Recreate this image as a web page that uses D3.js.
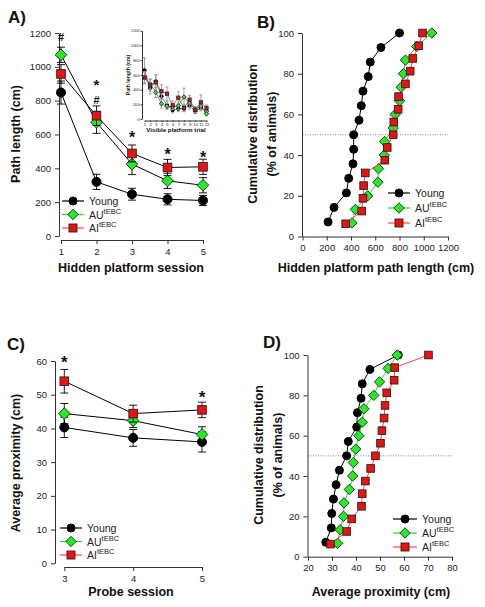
<!DOCTYPE html>
<html><head><meta charset="utf-8">
<script src="https://cdn.jsdelivr.net/npm/d3@7"></script>
<style>body{margin:0;background:#fff}svg{display:block}text{font-family:"Liberation Sans",Arial,sans-serif}</style>
</head><body>
<script>
// ---------- DATA ----------
const sessionsA = [1,2,3,4,5];
const youngA = [848,320,247,217,210];
const youngAErr = [68,45,35,33,30];
const auA = [1071,672,425,326,300];
const auAErr = [45,65,62,45,45];
const aiA = [958,711,488,405,409];
const aiAErr = [55,58,50,48,45];
const yTicksA = [0,200,400,600,800,1000,1200];

const trialsI = [1,2,3,4,5,6,7,8,9,10,11,12];
const youngI = [661,420,512,308,186,122,140,140,186,104,150,104];
const youngIErr = [170,80,90,90,50,40,40,40,50,30,40,30];
const auI = [557,476,362,208,172,168,181,299,217,127,177,72];
const auIErr = [80,70,70,60,40,40,50,120,60,40,50,30];
const aiI = [566,457,498,376,344,186,290,150,263,127,227,150];
const aiIErr = [80,80,100,90,90,60,80,50,60,40,100,40];
const yTicksI = [0,200,400,600,800,1000,1200];

const youngB = [211,260,362,381,416,422,422,466,485,499,542,559,647,800];
const auB = [408,436,537,622,627,674,677,748,764,800,814,833,849,942,1066];
const aiB = [356,488,499,504,518,679,699,748,753,789,792,849,888,910,959,990];
const xTicksB = [0,200,400,600,800,1000,1200];
const pctTicks = [0,20,40,60,80,100];

const sessionsC = [3,4,5];
const youngC = [40.3,37.2,36.0];
const youngCErr = [3.0,2.5,3.0];
const auC = [44.4,42.3,38.2];
const auCErr = [3.0,2.0,2.3];
const aiC = [54.0,44.4,45.5];
const aiCErr = [3.5,2.5,2.3];
const yTicksC = [0,10,20,30,40,50,60];

const youngD = [27.4,29.7,29.9,30.6,31.7,33.1,36.1,36.8,40.3,40.6,42.1,42.6,45.8,57.6];
const auD = [32.3,33.4,34.8,35.0,37.2,38.6,38.9,39.9,41.2,42.6,43.3,47.4,49.8,53.4,57.2];
const aiD = [29.4,36.1,38.2,42.3,42.6,43.9,46.1,48.1,50.2,50.8,51.7,52.1,52.8,55.9,56.1,70.2];
const xTicksD = [20,30,40,50,60,70,80];

// ---------- STYLE ----------
const GREEN="#22ee22", RED="#ee1111", GLINE="#22dd22", RLINE="#ff4444";
const W=485,H=607;
const fmt=d3.format("d");
const svg=d3.select("body").append("svg").attr("width",W).attr("height",H);

function marker(g,type,x,y,s,fill){
  if(type==="circle") g.append("circle").attr("cx",x).attr("cy",y).attr("r",s).attr("fill","#000").attr("stroke","#000");
  else if(type==="square") g.append("rect").attr("x",x-s).attr("y",y-s).attr("width",2*s).attr("height",2*s).attr("fill",fill).attr("stroke","#222").attr("stroke-width",0.9);
  else { const d=s*1.3; g.append("path").attr("d",`M${x},${y-d}L${x+d},${y}L${x},${y+d}L${x-d},${y}Z`).attr("fill",fill).attr("stroke","#222").attr("stroke-width",0.9); }
}
function series(g,xs,ys,errs,x,y,type,fill,lineColor,s,errColor,cap,lw){
  const line=d3.line().x((d,i)=>x(xs[i])).y(d=>y(d));
  g.append("path").datum(ys).attr("d",line).attr("fill","none").attr("stroke",lineColor).attr("stroke-width",lw||1);
  if(errs){ ys.forEach((v,i)=>{
    const cx=x(xs[i]);
    g.append("line").attr("x1",cx).attr("x2",cx).attr("y1",y(v+errs[i])).attr("y2",y(v-errs[i])).attr("stroke",errColor).attr("stroke-width",0.9);
    [v+errs[i],v-errs[i]].forEach(e=>g.append("line").attr("x1",cx-cap).attr("x2",cx+cap).attr("y1",y(e)).attr("y2",y(e)).attr("stroke",errColor).attr("stroke-width",0.9));
  });}
  ys.forEach((v,i)=>marker(g,type,x(xs[i]),y(v),s,fill));
}
function cumSeries(g,xs,x,y,type,fill,lineColor,s){
  const n=xs.length; const ps=xs.map((d,i)=>(i+1)*100/n);
  series(g,xs,ps,null,x,y,type,fill,lineColor,s,null,0,1);
}
function styleAxis(a,fs){
  a.selectAll("text").attr("font-size",fs).attr("fill","#222");
  a.selectAll("line").attr("stroke","#333");
  a.select(".domain").attr("stroke","#333");
}
function legend(g,x0,y0,dy,lineLen,s,fs){
  const items=[["circle","#000","#000","Young",null],["diamond",GREEN,GLINE,"AU","tEBC"],["square",RED,RLINE,"AI","tEBC"]];
  items.forEach((it,i)=>{
    const y=y0+i*dy;
    g.append("line").attr("x1",x0).attr("x2",x0+lineLen).attr("y1",y).attr("y2",y).attr("stroke",it[2]).attr("stroke-width",1.2);
    marker(g,it[0],x0+lineLen/2,y,s,it[1]);
    const t=g.append("text").attr("x",x0+lineLen+5).attr("y",y+4).attr("font-size",fs).attr("fill","#222").text(it[3]);
    if(it[4]) t.append("tspan").attr("dy",-5).attr("font-size",fs*0.72).text(it[4]);
  });
}
function txt(x,y,s,fs,opts={}){
  const t=svg.append("text").attr("x",x).attr("y",y).attr("font-size",fs).attr("font-weight",opts.bold===false?"normal":"bold").attr("text-anchor",opts.anchor||"middle").attr("fill","#111").text(s);
  if(opts.rot) t.attr("transform",`rotate(-90,${x},${y})`);
  return t;
}

// ---------- PANEL A ----------
{
  const g=svg.append("g");
  const x=d3.scaleLinear().domain([1,5]).range([61,203]);
  const y=d3.scaleLinear().domain([0,1200]).range([236,33]);
  styleAxis(g.append("g").attr("transform","translate(59,0)").call(d3.axisLeft(y).tickValues(yTicksA).tickFormat(fmt).tickSize(4).tickSizeOuter(0).tickPadding(4)),9.5);
  styleAxis(g.append("g").attr("transform","translate(0,240)").call(d3.axisBottom(x).tickValues(sessionsA).tickFormat(fmt).tickSize(4).tickSizeOuter(0).tickPadding(4)),9.5);
  series(g,sessionsA,youngA,youngAErr,x,y,"circle","#000","#000",4.5,"#000",4);
  series(g,sessionsA,auA,auAErr,x,y,"diamond",GREEN,"#000",4.5,"#000",4);
  series(g,sessionsA,aiA,aiAErr,x,y,"square",RED,"#000",4.3,"#000",4);
  legend(g,62,201,13.5,22,4,10.5);
  // annotations
  [[1,"#",41,11],[2,"*",90,15],[2,"#",104,11],[3,"*",143,16],[4,"*",160,16],[5,"*",163,16]].forEach(a=>txt(x(a[0]),a[2],a[1],a[3]));
  // inset
  const xi=d3.scaleLinear().domain([1,12]).range([144.5,206.5]);
  const yi=d3.scaleLinear().domain([0,1200]).range([119,30.7]);
  styleAxis(g.append("g").attr("transform","translate(142,0)").call(d3.axisLeft(yi).tickValues(yTicksI).tickFormat(fmt).tickSize(1.5).tickSizeOuter(0).tickPadding(1)),3.8);
  styleAxis(g.append("g").attr("transform","translate(0,120.5)").call(d3.axisBottom(xi).tickValues(trialsI).tickFormat(fmt).tickSize(1.5).tickSizeOuter(0).tickPadding(1)),4.2);
  series(g,trialsI,youngI,youngIErr,xi,yi,"circle","#000","#333",1.7,"#999",1.5,0.6);
  series(g,trialsI,auI,auIErr,xi,yi,"diamond",GREEN,"#333",1.7,"#999",1.5,0.6);
  series(g,trialsI,aiI,aiIErr,xi,yi,"square",RED,"#333",1.6,"#999",1.5,0.6);
  txt(129.5,75,"Path length (cm)",5.2,{rot:true});
  txt(176,132,"Visible platform trial",6.2);
}
// ---------- PANEL B ----------
{
  const g=svg.append("g");
  const x=d3.scaleLinear().domain([0,1200]).range([302.5,448]);
  const y=d3.scaleLinear().domain([0,100]).range([236.5,33]);
  styleAxis(g.append("g").attr("transform","translate(302,0)").call(d3.axisLeft(y).tickValues(pctTicks).tickFormat(fmt).tickSize(4).tickSizeOuter(0).tickPadding(4)),9.5);
  styleAxis(g.append("g").attr("transform","translate(0,236.5)").call(d3.axisBottom(x).tickValues(xTicksB).tickFormat(fmt).tickSize(4).tickSizeOuter(0).tickPadding(4)),9.5);
  g.append("line").attr("x1",x(0)).attr("x2",x(1200)).attr("y1",y(50)).attr("y2",y(50)).attr("stroke","#666").attr("stroke-width",0.8).attr("stroke-dasharray","1,1.5");
  cumSeries(g,youngB,x,y,"circle","#000","#000",4);
  cumSeries(g,auB,x,y,"diamond",GREEN,GLINE,4);
  cumSeries(g,aiB,x,y,"square",RED,RLINE,3.8);
  legend(g,388,193,15,22,4,10.5);
}
// ---------- PANEL C ----------
{
  const g=svg.append("g");
  const x=d3.scaleLinear().domain([3,5]).range([64.3,202]);
  const y=d3.scaleLinear().domain([0,60]).range([563.3,361]);
  styleAxis(g.append("g").attr("transform","translate(55,0)").call(d3.axisLeft(y).tickValues(yTicksC).tickFormat(fmt).tickSize(4).tickSizeOuter(0).tickPadding(4)),9.5);
  styleAxis(g.append("g").attr("transform","translate(0,567)").call(d3.axisBottom(x).tickValues(sessionsC).tickFormat(fmt).tickSize(4).tickSizeOuter(0).tickPadding(4)),9.5);
  series(g,sessionsC,youngC,youngCErr,x,y,"circle","#000","#000",4.5,"#000",4);
  series(g,sessionsC,auC,auCErr,x,y,"diamond",GREEN,"#000",4.5,"#000",4);
  series(g,sessionsC,aiC,aiCErr,x,y,"square",RED,"#000",4.3,"#000",4);
  legend(g,60,528,13.5,22,4,10.5);
  txt(x(3),368,"*",17); txt(x(5),403,"*",17);
}
// ---------- PANEL D ----------
{
  const g=svg.append("g");
  const x=d3.scaleLinear().domain([20,80]).range([308,452]);
  const y=d3.scaleLinear().domain([0,100]).range([556.7,355]);
  styleAxis(g.append("g").attr("transform","translate(307.5,0)").call(d3.axisLeft(y).tickValues(pctTicks).tickFormat(fmt).tickSize(4).tickSizeOuter(0).tickPadding(4)),9.5);
  styleAxis(g.append("g").attr("transform","translate(0,556.7)").call(d3.axisBottom(x).tickValues(xTicksD).tickFormat(fmt).tickSize(4).tickSizeOuter(0).tickPadding(4)),9.5);
  g.append("line").attr("x1",x(20)).attr("x2",x(80)).attr("y1",y(50)).attr("y2",y(50)).attr("stroke","#666").attr("stroke-width",0.8).attr("stroke-dasharray","1,1.5");
  cumSeries(g,youngD,x,y,"circle","#000","#000",4);
  cumSeries(g,auD,x,y,"diamond",GREEN,GLINE,4);
  cumSeries(g,aiD,x,y,"square",RED,RLINE,3.8);
  legend(g,393,519,14,24,4,10.5);
}
// ---------- TITLES ----------
txt(8,23,"A)",17,{anchor:"start"});
txt(257,28,"B)",17,{anchor:"start"});
txt(7,350,"C)",17,{anchor:"start"});
txt(263,348,"D)",17,{anchor:"start"});
txt(20,134,"Path length (cm)",12.5,{rot:true});
txt(131,272,"Hidden platform session",12.5);
txt(257,134,"Cumulative distribution",12.5,{rot:true});
txt(276,134,"(% of animals)",12.5,{rot:true});
txt(376,272,"Hidden platform path length (cm)",12.5);
txt(20,463,"Average proximity (cm)",12.5,{rot:true});
txt(131,596,"Probe session",12.5);
txt(263,455,"Cumulative distribution",12.5,{rot:true});
txt(282,455,"(% of animals)",12.5,{rot:true});
txt(381,596,"Average proximity (cm)",12.5);
</script>
</body></html>
